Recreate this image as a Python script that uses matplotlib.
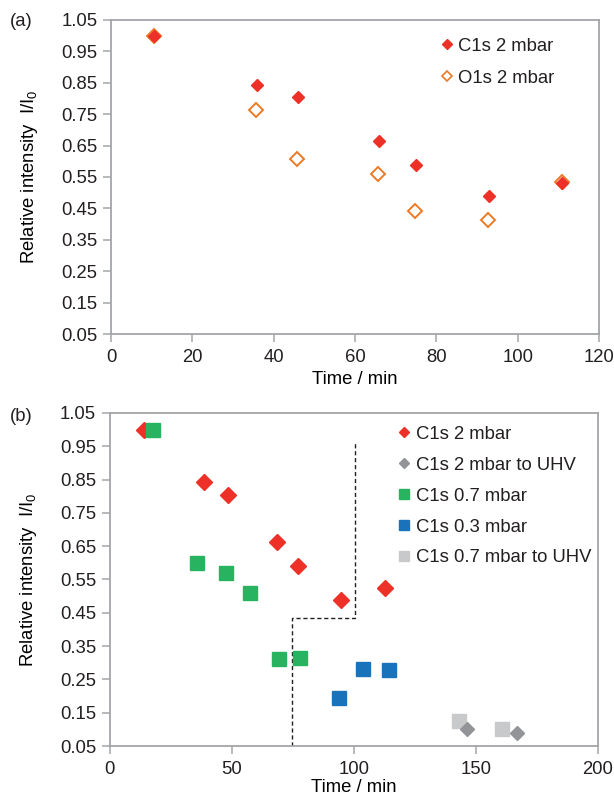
import matplotlib
matplotlib.use('Agg')
import matplotlib.pyplot as plt
from matplotlib.lines import Line2D

plt.rcParams['font.family'] = ['Liberation Sans', 'DejaVu Sans']
plt.rcParams['font.size'] = 13.3
plt.rcParams['mathtext.fontset'] = 'custom'
plt.rcParams['mathtext.rm'] = 'Liberation Sans'
plt.rcParams['text.color'] = '#231f20'

#%%
''' Data read off the two panels '''

# panel (a)
time_c1s_a = [10.5, 35.8, 45.9, 65.9, 75.0, 92.9, 111.0]
c1s_a = [1.00, 0.843, 0.804, 0.664, 0.589, 0.491, 0.530]
time_o1s_a = [10.5, 35.7, 45.8, 65.7, 74.8, 92.8, 110.8]
o1s_a = [1.00, 0.762, 0.607, 0.559, 0.441, 0.414, 0.535]
labels_a = ['C1s 2 mbar', 'O1s 2 mbar']

# panel (b)
time_c1s_2 = [13.8, 38.6, 48.6, 68.3, 77.1, 94.9, 112.7]
c1s_2 = [1.00, 0.843, 0.803, 0.662, 0.589, 0.489, 0.524]
time_c1s_2_uhv = [146.2, 166.9]
c1s_2_uhv = [0.102, 0.089]
time_c1s_07 = [17.8, 35.7, 47.4, 57.4, 69.1, 77.9]
c1s_07 = [1.00, 0.600, 0.569, 0.508, 0.311, 0.315]
time_c1s_03 = [93.7, 103.6, 114.4]
c1s_03 = [0.195, 0.281, 0.277]
time_c1s_07_uhv = [143.0, 160.7]
c1s_07_uhv = [0.124, 0.100]
labels_b = ['C1s 2 mbar', 'C1s 2 mbar to UHV', 'C1s 0.7 mbar',
            'C1s 0.3 mbar', 'C1s 0.7 mbar to UHV']

# dashed boundary in panel (b)
dash_x = [74.6, 74.6, 100.3, 100.3]
dash_y = [0.05, 0.434, 0.434, 0.961]

yticks = [0.05, 0.15, 0.25, 0.35, 0.45, 0.55, 0.65, 0.75, 0.85, 0.95, 1.05]

red = '#ed3129'
orange = '#ec7a24'
green = '#27b35f'
blue = '#1a72bb'
dgray = '#929497'
lgray = '#c8c9cb'
axcol = '#a3a5a8'


def style_axes(ax, xmax, xstep, xpad):
    ax.set_xlim(0, xmax)
    ax.set_ylim(0.05, 1.05)
    ax.set_xticks(range(0, xmax + 1, xstep))
    ax.set_yticks(yticks)
    ax.set_yticklabels(['%.2f' % v for v in yticks])
    for s in ax.spines.values():
        s.set_color(axcol)
        s.set_linewidth(1.3)
    ax.tick_params(direction='out', length=5.5, width=1.1, color=axcol,
                   labelcolor='#231f20', pad=4.4)
    ax.tick_params(axis='x', pad=5.5)
    ax.set_xlabel('Time / min', labelpad=xpad)
    ax.set_ylabel('Relative intensity  I/I$_\\mathregular{0}$')
    ax.yaxis.set_label_coords(-0.146, 0.5)


fig = plt.figure(figsize=(6.14, 7.96), dpi=100)

#%%
''' Panel (a) '''

ax = fig.add_axes([0.1808, 0.5804, 0.7948, 0.3945])
ax.plot(time_o1s_a, o1s_a, ls='none', marker='D', ms=7.4, mfc='none',
        mec=orange, mew=1.4)
ax.plot(time_c1s_a, c1s_a, ls='none', marker='D', ms=6.4, mfc=red, mec=red)
style_axes(ax, 120, 20, 3.5)

handles = [Line2D([], [], ls='none', marker='D', ms=4.6, mfc=red, mec=red),
           Line2D([], [], ls='none', marker='D', ms=4.6, mfc='none',
                  mec=orange, mew=1.2)]
ax.legend(handles, labels_a, loc='upper left', bbox_to_anchor=(0.677, 0.944),
          frameon=False, borderaxespad=0, borderpad=0, handlelength=0.6,
          handletextpad=0.3, labelspacing=0.82)

fig.text(0.016, 1 - 21.7 / 796, '(a)', va='center')

#%%
''' Panel (b) '''

ax = fig.add_axes([0.179, 0.0628, 0.7948, 0.4184])
ax.plot(dash_x, dash_y, color='#231f20', lw=1, ls=(0, (3, 2)))
ax.plot(time_c1s_2, c1s_2, ls='none', marker='D', ms=8.0, mfc=red, mec=red)
ax.plot(time_c1s_07, c1s_07, ls='none', marker='s', ms=9.6, mfc=green, mec=green)
ax.plot(time_c1s_03, c1s_03, ls='none', marker='s', ms=9.6, mfc=blue, mec=blue)
ax.plot(time_c1s_07_uhv, c1s_07_uhv, ls='none', marker='s', ms=10,
        mfc=lgray, mec=lgray)
ax.plot(time_c1s_2_uhv, c1s_2_uhv, ls='none', marker='D', ms=7.4,
        mfc=dgray, mec=dgray)
style_axes(ax, 200, 50, 0.5)

handles = [Line2D([], [], ls='none', marker='D', ms=5.2, mfc=red, mec=red),
           Line2D([], [], ls='none', marker='D', ms=5.2, mfc=dgray, mec=dgray),
           Line2D([], [], ls='none', marker='s', ms=6.6, mfc=green, mec=green),
           Line2D([], [], ls='none', marker='s', ms=6.6, mfc=blue, mec=blue),
           Line2D([], [], ls='none', marker='s', ms=6.6, mfc=lgray, mec=lgray)]
ax.legend(handles, labels_b, loc='upper left', bbox_to_anchor=(0.591, 0.961),
          frameon=False, borderaxespad=0, borderpad=0, handlelength=0.6,
          handletextpad=0.35, labelspacing=0.75)

fig.text(0.016, 1 - 416.7 / 796, '(b)', va='center')

fig.savefig('out.png', dpi=100)
